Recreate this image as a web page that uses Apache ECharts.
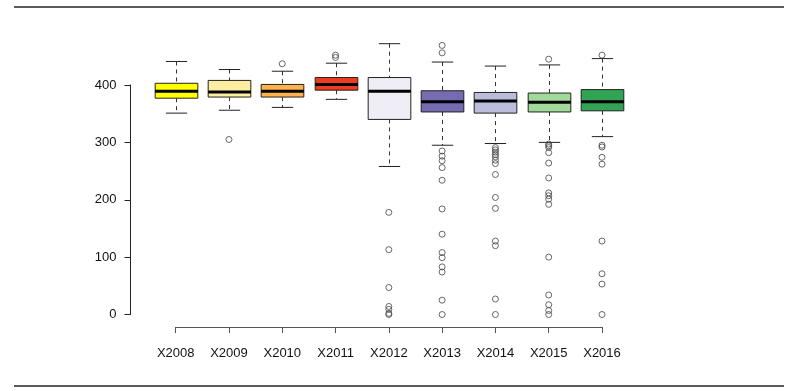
<!DOCTYPE html>
<html>
<head>
<meta charset="utf-8">
<script src="https://cdn.jsdelivr.net/npm/echarts@6/dist/echarts.min.js"></script>
<style>
html, body { margin: 0; padding: 0; background: #fff; }
#main { width: 800px; height: 391px; }
</style>
</head>
<body>
<div id="main"></div>
<script>
// data
var categories = ['X2008', 'X2009', 'X2010', 'X2011', 'X2012', 'X2013', 'X2014', 'X2015', 'X2016'];
var boxLow = [351, 356, 361, 375, 258, 295, 298, 300, 310];
var boxQ1 = [377, 379, 379, 391, 340, 353, 351, 353, 355];
var boxMedian = [389, 388, 389, 401, 389, 371, 372, 370, 371];
var boxQ3 = [403, 408, 401, 413, 413, 390, 387, 386, 392];
var boxHigh = [441, 427, 424, 438, 472, 440, 433, 435, 446];
var outliers = [
    [],
    [305],
    [437],
    [452, 448],
    [178, 113, 47, 14, 9, 2, 0],
    [469, 456, 285, 276, 268, 256, 234, 184, 140, 108, 99, 83, 74, 25, 0],
    [291, 287, 283, 279, 275, 269, 263, 244, 204, 185, 128, 120, 27, 0],
    [445, 297, 294, 291, 282, 264, 238, 212, 207, 201, 192, 100, 34, 17, 7, 0],
    [452, 295, 292, 274, 262, 128, 71, 53, 0]
];
var yTicks = [0, 100, 200, 300, 400];

var boxColors = ['#FFFF00', '#FFEDA0', '#FEB24C', '#F03B20', '#EFEDF5', '#756BB1', '#BCBDDC', '#A1D99B', '#31A354'];

var chartDom = document.getElementById('main');
var myChart = echarts.init(chartDom);

var boxData = categories.map(function (c, i) {
    return [i, boxLow[i], boxQ1[i], boxMedian[i], boxQ3[i], boxHigh[i]];
});
var outlierData = [];
outliers.forEach(function (list, i) {
    list.forEach(function (v) {
        outlierData.push([i, v]);
    });
});

// R style box: dashed whiskers, half width staples, thick median
function renderBox(params, api) {
    var idx = api.value(0);
    var low = api.coord([idx, api.value(1)]);
    var q1 = api.coord([idx, api.value(2)]);
    var med = api.coord([idx, api.value(3)]);
    var q3 = api.coord([idx, api.value(4)]);
    var high = api.coord([idx, api.value(5)]);
    var band = api.size([1, 0])[0];
    var half = band * 0.4;
    var cap = half / 2;
    var x = Math.round(low[0]) + 0.5;
    var dashed = { stroke: '#333', lineWidth: 1, lineDash: [4, 4], fill: null };
    var solid = { stroke: '#222', lineWidth: 1, fill: null };
    return {
        type: 'group',
        children: [
            { type: 'line', shape: { x1: x, y1: high[1], x2: x, y2: q3[1] }, style: dashed },
            { type: 'line', shape: { x1: x, y1: q1[1], x2: x, y2: low[1] }, style: dashed },
            { type: 'line', shape: { x1: x - cap, y1: high[1], x2: x + cap, y2: high[1] }, style: solid },
            { type: 'line', shape: { x1: x - cap, y1: low[1], x2: x + cap, y2: low[1] }, style: solid },
            {
                type: 'rect',
                shape: { x: x - half, y: q3[1], width: half * 2, height: q1[1] - q3[1] },
                style: { fill: boxColors[idx], stroke: '#222', lineWidth: 1 }
            },
            { type: 'line', shape: { x1: x - half, y1: med[1], x2: x + half, y2: med[1] }, style: { stroke: '#000', lineWidth: 3 } }
        ]
    };
}

var labelFont = {
    fontFamily: 'Liberation Sans, Arial, sans-serif',
    fontSize: 13,
    color: '#111'
};

var option = {
    animation: false,
    backgroundColor: '#fff',
    grid: [
        // plotting area (y from 0 to 480)
        { left: 149, right: 171.35, top: 39.1, bottom: 76.5 },
        // y axis drawn from 0 to 400 only
        { left: 130.5, width: 10, top: 85, bottom: 76.5 },
        // x axis drawn from first to last category
        { left: 175.7, right: 198, bottom: 64, height: 10 }
    ],
    xAxis: [
        { gridIndex: 0, type: 'category', data: categories, boundaryGap: true, show: false },
        { gridIndex: 1, type: 'value', show: false },
        {
            gridIndex: 2,
            type: 'value',
            min: 0,
            max: categories.length - 1,
            interval: 1,
            splitLine: { show: false },
            axisLine: { show: true, lineStyle: { color: '#555', width: 1 } },
            axisTick: { show: true, length: 6, lineStyle: { color: '#555' } },
            axisLabel: Object.assign({
                margin: 20,
                showMinLabel: true,
                showMaxLabel: true,
                formatter: function (v) { return categories[v]; }
            }, labelFont)
        }
    ],
    yAxis: [
        { gridIndex: 0, type: 'value', min: 0, max: 480, show: false },
        {
            gridIndex: 1,
            type: 'value',
            min: yTicks[0],
            max: yTicks[yTicks.length - 1],
            interval: 100,
            splitLine: { show: false },
            axisLine: { show: true, lineStyle: { color: '#222', width: 1 } },
            axisTick: { show: true, length: 6, lineStyle: { color: '#222' } },
            axisLabel: Object.assign({ margin: 14 }, labelFont)
        },
        { gridIndex: 2, type: 'value', show: false }
    ],
    series: [
        {
            type: 'custom',
            xAxisIndex: 0,
            yAxisIndex: 0,
            renderItem: renderBox,
            encode: { x: 0, y: [1, 2, 3, 4, 5] },
            data: boxData,
            z: 2
        },
        {
            type: 'scatter',
            xAxisIndex: 0,
            yAxisIndex: 0,
            symbol: 'circle',
            symbolSize: 6,
            itemStyle: { color: 'rgba(0,0,0,0)', borderColor: '#444', borderWidth: 1 },
            data: outlierData,
            z: 3
        }
    ],
    graphic: [
        { type: 'line', shape: { x1: 14, y1: 7, x2: 784, y2: 7 }, style: { stroke: '#222', lineWidth: 1.5 } },
        { type: 'line', shape: { x1: 14, y1: 386, x2: 784, y2: 386 }, style: { stroke: '#222', lineWidth: 1.5 } }
    ]
};

myChart.setOption(option);
</script>
</body>
</html>
